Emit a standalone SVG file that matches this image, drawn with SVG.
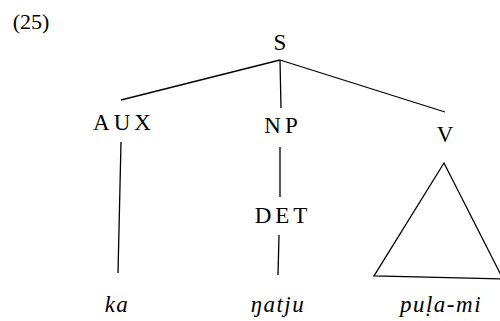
<svg xmlns="http://www.w3.org/2000/svg" width="500" height="321" viewBox="0 0 500 321">
<style>
text{font-family:"Liberation Serif","Times New Roman",serif;font-size:23px;fill:#000;text-anchor:middle}
.l{letter-spacing:4px}
.i{font-style:italic;letter-spacing:1.5px}
line,polygon{stroke:#000;stroke-width:1.3;fill:none}
</style>
<rect width="500" height="321" fill="#fff"/>
<text x="31" y="29" style="font-size:22px">(25)</text>
<g id="connectors">
<line x1="280" y1="60" x2="121" y2="100"/>
<line x1="280" y1="60" x2="281" y2="108"/>
<line x1="280" y1="60" x2="445" y2="112"/>
<line x1="121" y1="142" x2="118" y2="273"/>
<line x1="280" y1="147" x2="280" y2="197"/>
<line x1="279" y1="235" x2="278" y2="275"/>
</g>
<g id="S"><text x="280" y="50">S</text></g>
<g id="AUX"><text class="l" x="124" y="130">AUX</text></g>
<g id="NP"><text class="l" x="283" y="133">NP</text></g>
<g id="V"><text x="445" y="142">V</text></g>
<g id="DET"><text class="l" x="283" y="223">DET</text></g>
<g id="V-tri"><polygon points="444,163 374,276 503,279"/></g>
<g id="ka"><text class="i" x="117" y="312">ka</text></g>
<g id="natju"><text class="i" x="278" y="312">ŋatju</text></g>
<g id="pula-mi"><text class="i" x="441" y="312">puḷa-mi</text></g>
</svg>
